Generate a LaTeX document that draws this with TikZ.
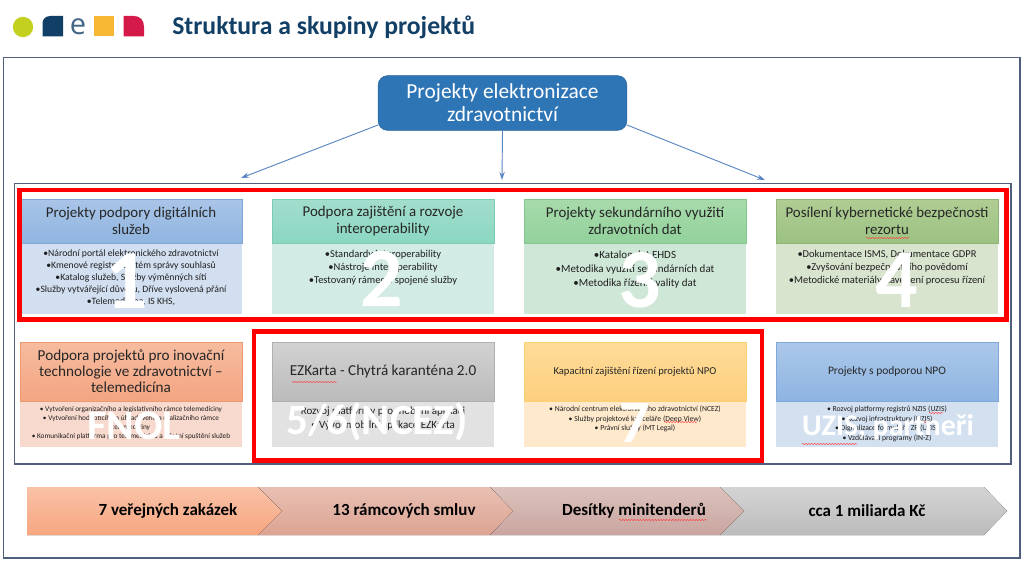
\documentclass[tikz,border=0pt]{standalone}
\usepackage{fontspec}
\setmainfont{Carlito}
\newfontfamily\logofont{Open Sans}
\usetikzlibrary{decorations.pathmorphing,arrows.meta}
\newcommand{\sz}[2]{\fontsize{\dimexpr#1pt*3/4\relax}{\dimexpr#2pt*3/4\relax}\selectfont}
\newcommand{\cardbox}[9]{%
  \node[bodybox, fill=#9, minimum height={(#5-#4)*0.75pt}] (#1b) at (#2,#4) {};
  \node[bodybox, draw=#8, line width=0.5pt, top color=#6, bottom color=#7, minimum height={(#4-#3)*0.75pt}] (#1h) at (#2,#3) {};
}
\definecolor{navy}{HTML}{123F66}
\definecolor{framec}{HTML}{505F7D}
\definecolor{linkc}{HTML}{5A87C3}
\definecolor{limec}{HTML}{C4D020}
\definecolor{sunc}{HTML}{F8B834}
\definecolor{crimc}{HTML}{D41A48}
\definecolor{rootc}{HTML}{2E75B6}
\definecolor{rootd}{HTML}{2A6399}
\definecolor{aT}{HTML}{A9C4E7}\definecolor{aB}{HTML}{8FB5E0}\definecolor{aE}{HTML}{7FA6D6}\definecolor{aD}{HTML}{D2DFF0}
\definecolor{bT}{HTML}{A3DDCD}\definecolor{bB}{HTML}{8AD7C2}\definecolor{bE}{HTML}{7CCBB5}\definecolor{bD}{HTML}{D2EBE5}
\definecolor{cT}{HTML}{A8DAAB}\definecolor{cB}{HTML}{92D29C}\definecolor{cE}{HTML}{84C68F}\definecolor{cD}{HTML}{CFE7D7}
\definecolor{dT}{HTML}{B0CD93}\definecolor{dB}{HTML}{9CC283}\definecolor{dE}{HTML}{8FB676}\definecolor{dD}{HTML}{D9E4CF}
\definecolor{eT}{HTML}{F6BC9F}\definecolor{eB}{HTML}{F4A582}\definecolor{eE}{HTML}{EE9A70}\definecolor{eD}{HTML}{F8D9CD}
\definecolor{fT}{HTML}{D2D2D2}\definecolor{fB}{HTML}{BBBBBB}\definecolor{fE}{HTML}{B0B0B0}\definecolor{fD}{HTML}{E2E2E2}
\definecolor{gT}{HTML}{FEDC98}\definecolor{gB}{HTML}{FDCF7F}\definecolor{gE}{HTML}{FBD070}\definecolor{gD}{HTML}{FEE9CC}
\definecolor{hT}{HTML}{ACC8E9}\definecolor{hB}{HTML}{8DB4E2}\definecolor{hE}{HTML}{80A9DA}\definecolor{hD}{HTML}{D3E0F0}
\definecolor{s1T}{HTML}{F9C2A8}\definecolor{s1B}{HTML}{F7A67F}
\definecolor{s2T}{HTML}{E8C0B3}\definecolor{s2B}{HTML}{DCA392}
\definecolor{s3T}{HTML}{DCC2BC}\definecolor{s3B}{HTML}{C9A5A0}
\definecolor{s4T}{HTML}{D4D4D4}\definecolor{s4B}{HTML}{BCBCBC}
\tikzset{
  bodybox/.style={anchor=north west, minimum width=166.5pt, inner sep=0pt, outer sep=0pt},
  frame/.style={draw=framec, line width=0.9pt},
  redbox/.style={draw=red, line width=3.4pt},
  head/.style={align=center, text=black!85, inner sep=0pt},
  body/.style={align=center, text=black!88, inner sep=0pt},
  big/.style={text=white, font=\bfseries\sz{#1}{#1}, inner sep=0pt},
  link/.style={draw=linkc, line width=0.7pt, -{Stealth[length=6pt,width=4pt]}},
  squig/.style={draw=red!75!white, line width=0.35pt, decorate, decoration={snake, amplitude=0.45pt, segment length=2.2pt}},
  chevtext/.style={text=black, font=\bfseries\sz{17}{20}, inner sep=0pt},
}
\begin{document}
\begin{tikzpicture}[x=0.75pt,y=-0.75pt]
\useasboundingbox (0,0) rectangle (1024,563);
\fill[white] (0,0) rectangle (1024,563);

% logo
\fill[limec] (23,27) circle (7.65pt);
\fill[navy] (42.5,36.5) -- (42.5,23) .. controls (42.5,20) and (45,16) .. (50,16) -- (63,16) -- (63,36.5) -- cycle;
\node[text=navy!80!white, inner sep=0pt, font=\logofont\sz{29}{29}] (logoe) at (78,27) {e};
\fill[sunc] (94,16) rectangle (114,36.5);
\fill[crimc] (123.5,16) -- (134,16) .. controls (140,16) and (144,20) .. (144,27) -- (144,36.5) -- (123.5,36.5) -- cycle;
\node[anchor=west, text=navy, inner sep=0pt, font=\bfseries\sz{25.7}{26}] (title) at (172,27.5) {Struktura a skupiny projektů};

% frames
\draw[frame] (3.5,57.5) rectangle (1020,558);
\draw[frame] (14.5,183.5) rectangle (1011,464);

% root
\node[draw=rootd, fill=rootc, rounded corners=7pt, minimum width=186.5pt, minimum height=41pt, inner sep=0pt, align=center, text=white, font=\sz{21.4}{23}] (root) at (502.5,103) {Projekty elektronizace\\zdravotnictví};

% row 1
\cardbox{a}{20}{199}{243}{314}{aT}{aB}{aE}{aD}
\cardbox{b}{272}{199}{243}{314}{bT}{bB}{bE}{bD}
\cardbox{c}{524}{199}{243}{314}{cT}{cB}{cE}{cD}
\cardbox{d}{776}{199}{243}{314}{dT}{dB}{dE}{dD}
% row 2
\cardbox{e}{20}{342}{401}{447}{eT}{eB}{eE}{eD}
\cardbox{f}{272}{342}{401}{447}{fT}{fB}{fE}{fD}
\cardbox{g}{524}{342}{401}{447}{gT}{gB}{gE}{gD}
\cardbox{h}{776}{342}{401}{447}{hT}{hB}{hE}{hD}

% connectors
\coordinate (rootl) at (378,125);
\coordinate (rootr) at (627,125);
\coordinate (leftend) at (241,178);
\coordinate (midend) at (502,180);
\coordinate (rightend) at (765,180);
\draw[link] (rootl) -- (leftend);
\draw[link] (root.south) -- (midend);
\draw[link] (rootr) -- (rightend);

% headers
\node[head, font=\sz{14.9}{17}] (at) at (ah) {Projekty podpory digitálních\\služeb};
\node[head, font=\sz{14.9}{17}] (bt) at (bh) {Podpora zajištění a rozvoje\\interoperability};
\node[head, font=\sz{14.9}{17}] (ct) at (ch) {Projekty sekundárního využití\\zdravotních dat};
\node[head, font=\sz{14.9}{17}] (dt) at (dh) {Posílení kybernetické bezpečnosti\\rezortu};
\node[head, font=\sz{15.2}{16}] (et) at (eh) {Podpora projektů pro inovační\\technologie ve zdravotnictví –\\telemedicína};
\node[head, font=\sz{15.2}{16}] (ft) at (fh) {EZKarta - Chytrá karanténa 2.0};
\node[head, font=\sz{10.6}{12}] (gt) at (gh) {Kapacitní zajištění řízení projektů NPO};
\node[head, font=\sz{11.5}{13}] (ht) at (hh) {Projekty s podporou NPO};

% bodies
\node[body, font=\sz{9.7}{12.1}, anchor=north] (al) at (131,249.5) {•Národní portál elektronického zdravotnictví\\•Kmenové registry, systém správy souhlasů\\•Katalog služeb, Služby výměnných sítí\\•Služby vytvářející důvěru, Dříve vyslovená přání\\•Telemedicína, IS KHS,};
\node[body, font=\sz{10.5}{13}, anchor=north] (bl) at (383,250) {•Standardy interoperability\\•Nástroje interoperability\\•Testovaný rámec a spojené služby};
\node[body, font=\sz{11}{14}, anchor=north] (cl) at (635,251) {•Katalog dat EHDS\\•Metodika využití sekundárních dat\\•Metodika řízení kvality dat};
\node[body, font=\sz{10.5}{13}, anchor=north] (dl) at (887,250) {•Dokumentace ISMS, Dokumentace GDPR\\•Zvyšování bezpečnostního povědomí\\•Metodické materiály, zavedení procesu řízení};
\node[body, font=\sz{7.3}{9}, anchor=north] (el) at (131,406) {• Vytvoření organizačního a legislativního rámce telemediciny\\• Vytvoření hodnotícího a úhradového a realizačního rámce\\telemediciny\\• Komunikační platforma pro telemedicínu a pilotní spuštění služeb};
\node[body, font=\sz{11}{14}, anchor=north] (fl) at (383,406.5) {Rozvoj platformy pro mobilní aplikaci\\• Vývoj mobilní aplikace EZKarta};
\node[body, font=\sz{7.7}{9.5}, anchor=north] (gl) at (635,406) {• Národní centrum elektronického zdravotnictví (NCEZ)\\• Služby projektové kanceláře (Deep View)\\• Právní služby (MT Legal)};
\node[body, font=\sz{7.7}{9.5}, anchor=north] (hl) at (887,406) {• Rozvoj platformy registrů NZIS (UZIS)\\• Rozvoj infrastruktury (UZIS)\\• Digitalizace formulářů ZP (UZIS)\\• Vzdělávací programy (IN-Z)};

% spell-check marks
\draw[squig] (866,238) -- (909,238);
\draw[squig] (292,382) -- (337,382);
\draw[squig] (664,422) -- (697,422);
\draw[squig] (929,413) -- (943,413);
\draw[squig] (914,422) -- (929,422);

% red boxes
\draw[redbox] (19.5,190) rectangle (1006.5,319.5);
\draw[redbox] (254,331.5) rectangle (762,460.5);

% large overlay labels
\node[big=84] (n1) at (127,281) {1};
\node[big=84] (n2) at (382,279) {2};
\node[big=84] (n3) at (640,280) {3};
\node[big=84] (n4) at (897,280) {4};
\node[big=42] (n5) at (134,426) {FNOL};
\node[big=43] (n6) at (377,422) {5/6(NCEZ)};
\node[big=60] (n7) at (635,423) {7};
\node[big=30] (n8) at (888,427) {UZIS, partneři};
\draw[squig] (802,444) -- (857,444);

% chevrons
\fill[top color=s4T, bottom color=s4B] (720,487) -- (984,487) -- (1007,511) -- (984,535) -- (720,535) -- (744,511) -- cycle;
\fill[top color=s3T, bottom color=s3B] (490,487) -- (720,487) -- (744,511) -- (720,535) -- (490,535) -- (513,511) -- cycle;
\fill[top color=s2T, bottom color=s2B] (258,487) -- (490,487) -- (513,511) -- (490,535) -- (258,535) -- (282,511) -- cycle;
\fill[top color=s1T, bottom color=s1B] (27,487) -- (258,487) -- (282,511) -- (258,535) -- (27,535) -- cycle;
\node[chevtext] (s1) at (168,511) {7 veřejných zakázek};
\node[chevtext] (s2) at (404,511) {13 rámcových smluv};
\node[chevtext] (s3) at (634,511) {Desítky minitenderů};
\node[chevtext] (s4) at (867,511) {cca 1 miliarda Kč};
\draw[squig] (619,520) -- (707,520);
\end{tikzpicture}
\end{document}
